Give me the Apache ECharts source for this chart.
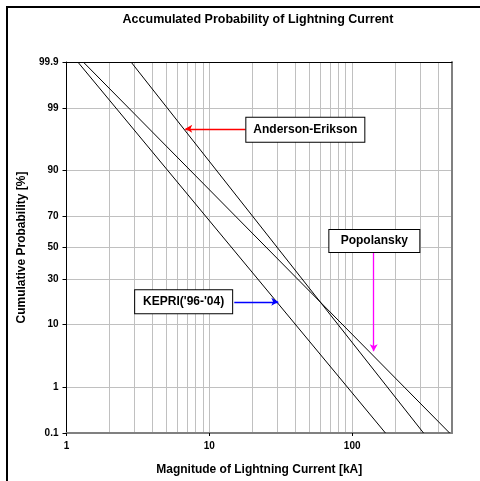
<!DOCTYPE html>
<html><head><meta charset="utf-8">
<script src="https://cdn.jsdelivr.net/npm/echarts@6/dist/echarts.min.js"></script>
<style>html,body{margin:0;padding:0;background:#fff}#c{width:480px;height:481px}</style>
</head><body><div id="c"></div>
<script>
// ---- data ----
const seriesNames = ["KEPRI('96-'04)", "Popolansky", "Anderson-Erikson"];
const currentAtTop = [1.2, 1.31, 2.83];      // kA where the line meets 99.9 %
const currentAtBottom = [171, 481, 316];     // kA where the line meets 0.1 %
const probEnds = [99.9, 0.1];                // %
const xLabelValues = [1, 10, 100];
const xGridValues = [2,3,4,5,6,7,8,9,10,20,30,40,50,60,70,80,90,100,200,300,400];
const yLabelValues = [0.1, 1, 10, 30, 50, 70, 90, 99, 99.9];
const yGridValues = [1, 10, 30, 50, 70, 90, 99];
// annotations: [kA, %]
const annotText = ["Anderson-Erikson", "KEPRI('96-'04)", "Popolansky"];
const annotBox = [[47.0, 97.5], [6.61, 18.3], [143, 54.3]];
const annotFrom = [[17.9, 97.6], [14.95, 18.3], [141.5, 46.7]];
const annotTo = [[6.78, 97.6], [30.4, 18.3], [141.5, 4.2]];

// ---- normal probability transform ----
function probit(p){
  const a=[-3.969683028665376e+01,2.209460984245205e+02,-2.759285104469687e+02,1.383577518672690e+02,-3.066479806614716e+01,2.506628277459239e+00];
  const b=[-5.447609879822406e+01,1.615858368580409e+02,-1.556989798598866e+02,6.680131188771972e+01,-1.328068155288572e+01];
  const c=[-7.784894002430293e-03,-3.223964580411365e-01,-2.400758277161838e+00,-2.549732539343734e+00,4.374664141464968e+00,2.938163982698783e+00];
  const d=[7.784695709041462e-03,3.224671290700398e-01,2.445134137142996e+00,3.754408661907416e+00];
  const pl=0.02425, ph=1-pl; let q,r;
  if(p<pl){q=Math.sqrt(-2*Math.log(p));return (((((c[0]*q+c[1])*q+c[2])*q+c[3])*q+c[4])*q+c[5])/((((d[0]*q+d[1])*q+d[2])*q+d[3])*q+1);}
  if(p>ph){q=Math.sqrt(-2*Math.log(1-p));return -(((((c[0]*q+c[1])*q+c[2])*q+c[3])*q+c[4])*q+c[5])/((((d[0]*q+d[1])*q+d[2])*q+d[3])*q+1);}
  q=p-0.5;r=q*q;return (((((a[0]*r+a[1])*r+a[2])*r+a[3])*r+a[4])*r+a[5])*q/(((((b[0]*r+b[1])*r+b[2])*r+b[3])*r+b[4])*r+1);
}
const z = pct => probit(pct/100);
const yMin = z(0.1), yMax = z(99.9);
const yLabelZ = yLabelValues.map(z);
function yFmt(v){
  let best=0, bd=1e9;
  yLabelZ.forEach((zz,i)=>{const dd=Math.abs(zz-v); if(dd<bd){bd=dd;best=i;}});
  return String(yLabelValues[best]);
}

const FONT = 'Arial, "Liberation Sans", sans-serif';
const boxSizes = [[118,24],[97,23],[90,22]];
const arrowColors = ['#ff0000','#0000ff','#ff00ff'];

const series = seriesNames.map((n,i)=>({
  name:n, type:'line', xAxisIndex:0, yAxisIndex:0,
  data:[[currentAtTop[i], z(probEnds[0])],[currentAtBottom[i], z(probEnds[1])]],
  symbol:'none', lineStyle:{color:'#000', width:1}, itemStyle:{color:'#000'},
  silent:true, z:3
}));
series.push({
  type:'line', xAxisIndex:0, yAxisIndex:0, data:[], silent:true, z:5,
  markLine:{
    silent:true, symbol:['none','arrow'], symbolSize:[6,7], label:{show:false},
    data: annotText.map((t,i)=>[
      {coord:[annotFrom[i][0], z(annotFrom[i][1])], lineStyle:{color:arrowColors[i], width:1.3, type:'solid'}},
      {coord:[annotTo[i][0], z(annotTo[i][1])]}
    ])
  },
  markPoint:{
    silent:true, symbol:'circle', symbolSize:0,
    itemStyle:{color:'rgba(0,0,0,0)'},
    data: annotText.map((t,i)=>({
      coord:[annotBox[i][0], z(annotBox[i][1])], value:t,
      label:{show:true, position:'inside', formatter:t, color:'#000', fontWeight:'bold', fontSize:12, fontFamily:FONT,
        backgroundColor:'#fff', borderColor:'#000', borderWidth:1,
        width:boxSizes[i][0], height:boxSizes[i][1], lineHeight:boxSizes[i][1], align:'center', verticalAlign:'middle'}
    }))
  }
});

const chart = echarts.init(document.getElementById('c'), null, {renderer:'canvas'});
chart.setOption({
  animation:false,
  backgroundColor:'#fff',
  title:{text:'Accumulated Probability of Lightning Current', left:258, top:13, textAlign:'center', padding:0,
    textStyle:{fontSize:12.5, fontWeight:'bold', color:'#000', fontFamily:FONT}},
  grid:{left:66.5, top:62, width:385.5, height:376, containLabel:false},
  xAxis:[
    {type:'log', logBase:10, min:1, max:500, position:'bottom',
     name:'Magnitude of Lightning Current [kA]', nameLocation:'middle', nameGap:31,
     nameTextStyle:{fontSize:12, fontWeight:'bold', color:'#000', fontFamily:FONT},
     axisLine:{show:true, onZero:false, lineStyle:{color:'#808080', width:2}},
     axisTick:{show:true, customValues:xLabelValues, length:3, lineStyle:{color:'#000'}},
     axisLabel:{show:true, customValues:xLabelValues, margin:8, fontSize:10, fontWeight:'bold', color:'#000', fontFamily:FONT},
     splitLine:{show:false}, minorTick:{show:false}},
    {type:'log', logBase:10, min:1, max:500, position:'top',
     axisLine:{show:true, onZero:false, lineStyle:{color:'#000', width:1}},
     axisTick:{show:false, customValues:xGridValues},
     axisLabel:{show:false, customValues:xGridValues},
     splitLine:{show:true, lineStyle:{color:'#c0c0c0', width:1}}}
  ],
  yAxis:[
    {type:'value', min:yMin, max:yMax, position:'left',
     name:'Cumulative Probability [%]', nameLocation:'middle', nameGap:39,
     nameTextStyle:{fontSize:12, fontWeight:'bold', color:'#000', fontFamily:FONT},
     axisLine:{show:true, onZero:false, lineStyle:{color:'#000', width:1}},
     axisTick:{show:true, customValues:yLabelZ, length:4, lineStyle:{color:'#000'}},
     axisLabel:{show:true, customValues:yLabelZ, formatter:yFmt, margin:8, fontSize:10, fontWeight:'bold', color:'#000', fontFamily:FONT},
     splitLine:{show:false}},
    {type:'value', min:yMin, max:yMax, position:'right',
     axisLine:{show:true, onZero:false, lineStyle:{color:'#808080', width:2}},
     axisTick:{show:false, customValues:yGridValues.map(z)},
     axisLabel:{show:false, customValues:yGridValues.map(z)},
     splitLine:{show:true, lineStyle:{color:'#c0c0c0', width:1}}}
  ],
  graphic:[{type:'rect', shape:{x:7, y:7, width:600, height:600}, style:{fill:null, stroke:'#000', lineWidth:2}, silent:true, z:-10}],
  series: series
});
</script></body></html>
